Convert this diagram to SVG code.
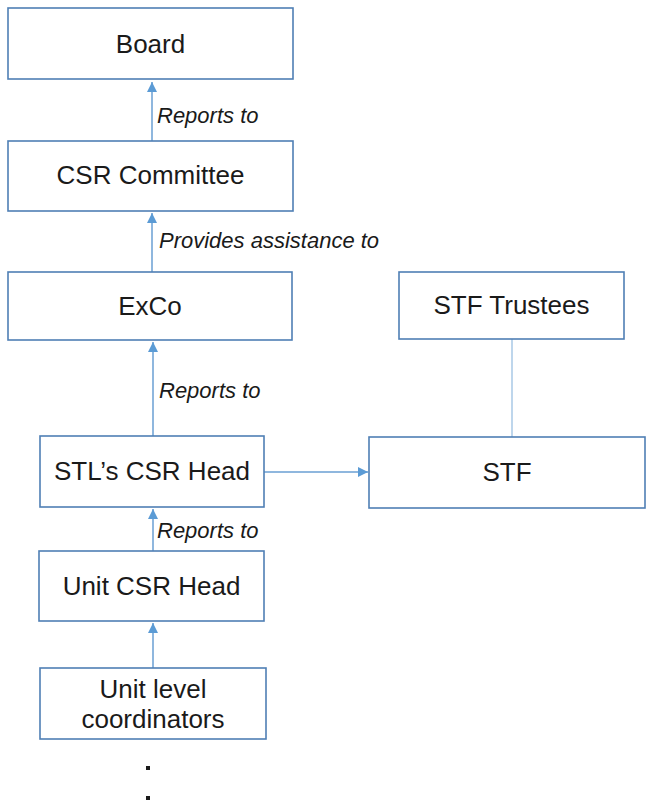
<svg xmlns="http://www.w3.org/2000/svg" width="648" height="804" viewBox="0 0 648 804">
<style>
.box{fill:#ffffff;stroke:#4f7fb5;stroke-width:1.6}
.t{font-family:"Liberation Sans",Arial,sans-serif;font-size:26px;fill:#1a1a1a;text-anchor:middle}
.lbl{font-family:"Liberation Sans",Arial,sans-serif;font-size:22px;font-style:italic;fill:#1a1a1a}
.c{stroke:#6a9fd3;stroke-width:1.5;fill:none}
.cl{stroke:#a9c8e6;stroke-width:1.5;fill:none}
</style>
<defs>
<marker id="ahb" viewBox="0 0 10 10" refX="10" refY="5" markerWidth="10" markerHeight="10" markerUnits="userSpaceOnUse" orient="auto">
<path d="M0,0 L10,5 L0,10 z" fill="#5b9bd5"/>
</marker>
</defs>
<rect width="648" height="804" fill="#ffffff"/>
<g id="connectors">
<line class="c" x1="152" y1="141" x2="152" y2="82" marker-end="url(#ahb)"/>
<line class="c" x1="152" y1="272" x2="152" y2="213" marker-end="url(#ahb)"/>
<line class="c" x1="153" y1="436" x2="153" y2="342" marker-end="url(#ahb)"/>
<line class="c" x1="153" y1="551" x2="153" y2="509" marker-end="url(#ahb)"/>
<line class="c" x1="153" y1="668" x2="153" y2="623" marker-end="url(#ahb)"/>
<line class="c" x1="264" y1="472" x2="368" y2="472" marker-end="url(#ahb)"/>
<line class="cl" x1="512" y1="339" x2="512" y2="437"/>
<text class="lbl" x="157" y="123">Reports to</text>
<text class="lbl" x="159" y="248">Provides assistance to</text>
<text class="lbl" x="159" y="398">Reports to</text>
<text class="lbl" x="157" y="538">Reports to</text>
</g>
<g id="board"><rect class="box" x="8" y="8" width="285" height="71"/><text class="t" x="150.5" y="53">Board</text></g>
<g id="csr-committee"><rect class="box" x="8" y="141" width="285" height="70"/><text class="t" x="150.5" y="184">CSR Committee</text></g>
<g id="exco"><rect class="box" x="8" y="272" width="284" height="68"/><text class="t" x="150" y="315">ExCo</text></g>
<g id="stf-trustees"><rect class="box" x="399" y="272" width="225" height="67"/><text class="t" x="511.5" y="314">STF Trustees</text></g>
<g id="stl-csr-head"><rect class="box" x="40" y="436" width="224" height="71"/><text class="t" x="152" y="480">STL’s CSR Head</text></g>
<g id="stf"><rect class="box" x="369" y="437" width="276" height="71"/><text class="t" x="507" y="481">STF</text></g>
<g id="unit-csr-head"><rect class="box" x="39" y="551" width="225" height="70"/><text class="t" x="151.5" y="595">Unit CSR Head</text></g>
<g id="unit-level-coordinators"><rect class="box" x="40" y="668" width="226" height="71"/><text class="t" x="153" y="698">Unit level</text><text class="t" x="153" y="728">coordinators</text></g>
<g id="dots"><rect x="146" y="766" width="4" height="4" fill="#1a1a1a"/><rect x="146" y="796" width="4" height="4" fill="#1a1a1a"/></g>
</svg>
